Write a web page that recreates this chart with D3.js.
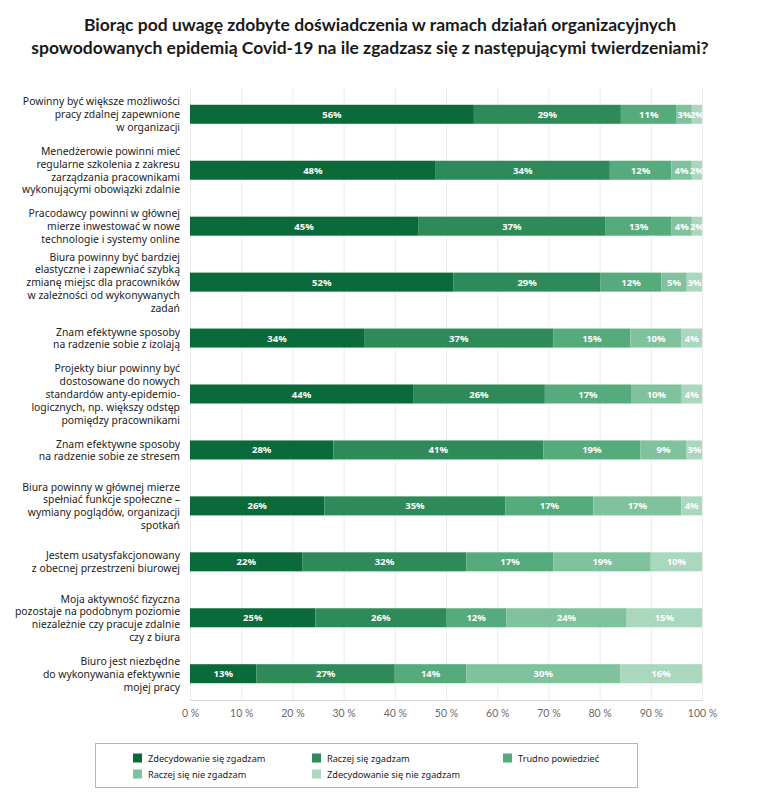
<!DOCTYPE html>
<html>
<head>
<meta charset="utf-8">
<title>Covid-19 - organizacja pracy</title>
<script src="https://d3js.org/d3.v7.min.js"></script>
<style>
	body { margin: 0; background: #fff; }
	text { font-family: Lato, "Noto Sans", sans-serif; }
	.title { font-size: 17.5px; font-weight: bold; fill: #1a1a1a; }
	.cat { font-family: "Noto Sans", sans-serif; font-size: 10.4px; fill: #222; }
	.val { font-family: "Noto Sans", sans-serif; font-size: 9.5px; font-weight: bold; fill: #fff; }
	.tick-lab { font-size: 10.5px; fill: #6a6a6a; }
	.leg { font-family: "Noto Sans", sans-serif; font-size: 9.2px; fill: #222; }
</style>
</head>
<body>
<svg id="chart" width="759" height="810"></svg>
<script>
// statements (line breaks as on the original)
var categories = [
	"Powinny być większe możliwości\npracy zdalnej zapewnione\nw organizacji",
	"Menedżerowie powinni mieć\nregularne szkolenia z zakresu\nzarządzania pracownikami\nwykonującymi obowiązki zdalnie",
	"Pracodawcy powinni w głównej\nmierze inwestować w nowe\ntechnologie i systemy online",
	"Biura powinny być bardziej\nelastyczne i zapewniać szybką\nzmianę miejsc dla pracowników\nw zależności od wykonywanych\nzadań",
	"Znam efektywne sposoby\nna radzenie sobie z izolają",
	"Projekty biur powinny być\ndostosowane do nowych\nstandardów anty-epidemio-\nlogicznych, np. większy odstęp\npomiędzy pracownikami",
	"Znam efektywne sposoby\nna radzenie sobie ze stresem",
	"Biura powinny w głównej mierze\nspełniać funkcje społeczne –\nwymiany poglądów, organizacji\nspotkań",
	"Jestem usatysfakcjonowany\nz obecnej przestrzeni biurowej",
	"Moja aktywność fizyczna\npozostaje na podobnym poziomie\nniezależnie czy pracuje zdalnie\nczy z biura",
	"Biuro jest niezbędne\ndo wykonywania efektywnie\nmojej pracy"
];

var answers = ["Zdecydowanie się zgadzam", "Raczej się zgadzam", "Trudno powiedzieć",
	"Raczej się nie zgadzam", "Zdecydowanie się nie zgadzam"];

// percentages per answer, same order as categories
var strongAgree    = [56, 48, 45, 52, 34, 44, 28, 26, 22, 25, 13];
var ratherAgree    = [29, 34, 37, 29, 37, 26, 41, 35, 32, 26, 27];
var hardToSay      = [11, 12, 13, 12, 15, 17, 19, 17, 17, 12, 14];
var ratherDisagree = [3, 4, 4, 5, 10, 10, 9, 17, 19, 24, 30];
var strongDisagree = [2, 2, 2, 3, 4, 4, 3, 4, 10, 15, 16];

var xTicks = [0, 10, 20, 30, 40, 50, 60, 70, 80, 90, 100];

var colors = ["#0b6a3a", "#2f8a59", "#56ab7c", "#80c29e", "#a9d8bf"];

var series = [strongAgree, ratherAgree, hardToSay, ratherDisagree, strongDisagree];
var rows = categories.map(function (c, i) {
	var r = { cat: c };
	answers.forEach(function (a, j) { r[a] = series[j][i]; });
	return r;
});

var svg = d3.select("#chart");
var pLeft = 190, pRight = 702, pTop = 88, pBottom = 700;

// title
svg.append("text").attr("class", "title").attr("text-anchor", "middle")
	.attr("x", 380).attr("y", 31)
	.text("Biorąc pod uwagę zdobyte doświadczenia w ramach działań organizacyjnych");
svg.append("text").attr("class", "title").attr("text-anchor", "middle")
	.attr("x", 370).attr("y", 54)
	.text("spowodowanych epidemią Covid-19 na ile zgadzasz się z następującymi twierdzeniami?");

var x = d3.scaleLinear().domain([0, 100]).range([pLeft, pRight]);
var y = d3.scaleBand().domain(categories).range([pTop, pBottom])
	.paddingInner(0.66).paddingOuter(0.3);
var color = d3.scaleOrdinal().domain(answers).range(colors);

// grid
svg.append("g").selectAll("line").data(xTicks).enter().append("line")
	.attr("x1", function (d) { return x(d) + 0.5; })
	.attr("x2", function (d) { return x(d) + 0.5; })
	.attr("y1", pTop).attr("y2", pBottom)
	.attr("stroke", "#ececec").attr("stroke-width", 1);

// x axis
var xAxis = svg.append("g").attr("transform", "translate(0," + pBottom + ")")
	.call(d3.axisBottom(x).tickValues(xTicks).tickSize(0).tickPadding(10)
		.tickFormat(function (d) { return d + " %"; }));
xAxis.select(".domain").attr("stroke", "#d4d4d4");
xAxis.selectAll("text").attr("class", "tick-lab").attr("font-family", null).attr("font-size", null);

// stacked bars (normalised so every row fills 100 %)
var stack = d3.stack().keys(answers).offset(d3.stackOffsetExpand);
var layers = stack(rows);

svg.append("defs").append("clipPath").attr("id", "plotclip")
	.append("rect").attr("x", pLeft).attr("y", pTop).attr("width", pRight - pLeft).attr("height", pBottom - pTop);

var layerG = svg.append("g").selectAll("g").data(layers).enter().append("g")
	.attr("fill", function (d) { return color(d.key); });

layerG.selectAll("rect").data(function (d) { return d; }).enter().append("rect")
	.attr("x", function (d) { return x(d[0] * 100); })
	.attr("width", function (d) { return x(d[1] * 100) - x(d[0] * 100); })
	.attr("y", function (d) { return y(d.data.cat); })
	.attr("height", y.bandwidth());

var labG = svg.append("g").attr("clip-path", "url(#plotclip)");
layers.forEach(function (layer) {
	labG.selectAll(null).data(layer).enter().append("text")
		.attr("class", "val").attr("text-anchor", "middle")
		.attr("x", function (d) { return x((d[0] + d[1]) * 50); })
		.attr("y", function (d) { return y(d.data.cat) + y.bandwidth() / 2 + 3.5; })
		.text(function (d) { return d.data[layer.key] + "%"; });
});

// category labels
categories.forEach(function (c) {
	var lines = c.split("\n");
	var lh = 12.8;
	var cy = y(c) + y.bandwidth() / 2;
	var t = svg.append("text").attr("class", "cat").attr("text-anchor", "end");
	lines.forEach(function (l, i) {
		t.append("tspan").attr("x", 180)
			.attr("y", cy + (i - (lines.length - 1) / 2) * lh + 4)
			.text(l);
	});
});

// legend
svg.append("rect").attr("x", 95.5).attr("y", 743.5).attr("width", 542).attr("height", 44)
	.attr("fill", "none").attr("stroke", "#b5b5b5");
var legPos = [[133, 758], [312, 758], [503, 758], [133, 774], [312, 774]];
var leg = svg.append("g").selectAll("g").data(answers).enter().append("g")
	.attr("transform", function (d, i) { return "translate(" + legPos[i][0] + "," + legPos[i][1] + ")"; });
leg.append("rect").attr("x", 0).attr("y", -4.5).attr("width", 9).attr("height", 9)
	.attr("fill", function (d) { return color(d); });
leg.append("text").attr("class", "leg").attr("x", 15).attr("y", 3.5)
	.text(function (d) { return d; });
</script>
</body>
</html>
